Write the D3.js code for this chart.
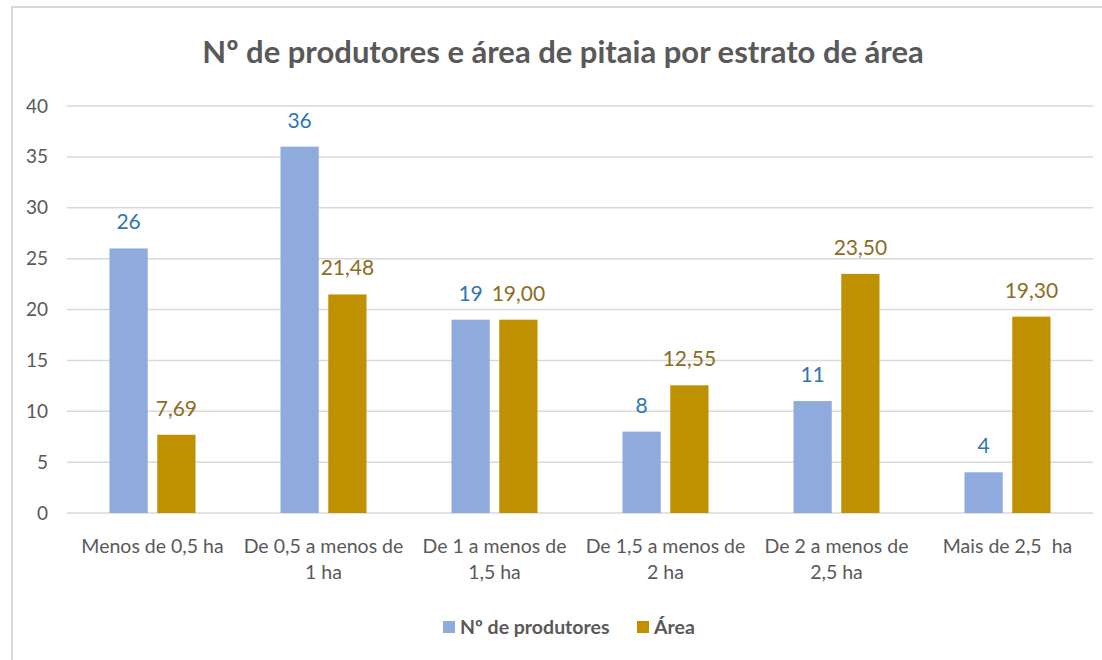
<!DOCTYPE html>
<html>
<head>
<meta charset="utf-8">
<script src="https://cdn.jsdelivr.net/npm/d3@7"></script>
<style>
  body { margin: 0; background: #fff; }
  text { font-family: Lato, "Open Sans", sans-serif; }
</style>
</head>
<body>
<div id="chart"></div>
<script>
// Chart data
var categories = [
  ["Menos de 0,5 ha"],
  ["De 0,5 a menos de", "1 ha"],
  ["De 1 a menos de", "1,5 ha"],
  ["De 1,5 a menos de", "2 ha"],
  ["De 2 a menos de", "2,5 ha"],
  ["Mais de 2,5  ha"]
];
var seriesNames = ["Nº de produtores", "Área"];
var produtores = [26, 36, 19, 8, 11, 4];
var area = [7.69, 21.48, 19.00, 12.55, 23.50, 19.30];
var yTicks = [0, 5, 10, 15, 20, 25, 30, 35, 40];

var svgWidth = 1102;
var svgHeight = 660;
var margin = { top: 106, right: 9, bottom: 147, left: 67 };
var chartWidth = svgWidth - margin.left - margin.right;
var chartHeight = svgHeight - margin.top - margin.bottom;

var colors = ["#8faadc", "#bf9000"];
var labelColors = ["#2e75b6", "#8c6d1f"];

var svg = d3.select("#chart")
  .append("svg")
  .attr("width", svgWidth)
  .attr("height", svgHeight);

// Outer frame
svg.append("rect")
  .attr("x", 12)
  .attr("y", 7)
  .attr("width", svgWidth)
  .attr("height", svgHeight)
  .attr("fill", "none")
  .attr("stroke", "#d9d9d9")
  .attr("stroke-width", 2);

// Title
svg.append("text")
  .attr("x", 563)
  .attr("y", 63)
  .attr("text-anchor", "middle")
  .attr("font-size", 31)
  .attr("font-weight", "bold")
  .attr("fill", "#595959")
  .text("Nº de produtores e área de pitaia por estrato de área");

var chartGroup = svg.append("g")
  .attr("transform", `translate(${margin.left}, ${margin.top})`);

var idx = d3.range(categories.length);

var x0 = d3.scaleBand()
  .domain(idx)
  .range([0, chartWidth])
  .padding(0);

var x1 = d3.scaleBand()
  .domain([0, 1])
  .range([0, 86])
  .paddingInner(0.2)
  .paddingOuter(0);

var yLinearScale = d3.scaleLinear()
  .domain([0, 40])
  .range([chartHeight, 0]);

// Gridlines
chartGroup.append("g")
  .selectAll("line")
  .data(yTicks)
  .enter()
  .append("line")
  .attr("x1", 0)
  .attr("x2", chartWidth)
  .attr("y1", d => yLinearScale(d))
  .attr("y2", d => yLinearScale(d))
  .attr("stroke", "#d9d9d9")
  .attr("stroke-width", 1.5);

// Y axis
var leftAxis = d3.axisLeft(yLinearScale)
  .tickValues(yTicks)
  .tickSize(0)
  .tickPadding(19);

var yAxis = chartGroup.append("g").call(leftAxis);
yAxis.select(".domain").remove();
yAxis.selectAll("text")
  .attr("font-size", 19)
  .attr("fill", "#595959")
  .style("font-family", "Lato, 'Open Sans', sans-serif");

// Bars
var series = [produtores, area];
var groups = chartGroup.selectAll("g.cat")
  .data(idx)
  .enter()
  .append("g")
  .attr("class", "cat")
  .attr("transform", d => `translate(${x0(d) + x0.bandwidth() / 2 - 43}, 0)`);

groups.selectAll("rect")
  .data(d => series.map((s, i) => ({ s: i, v: s[d] })))
  .enter()
  .append("rect")
  .attr("x", d => x1(d.s))
  .attr("y", d => yLinearScale(d.v))
  .attr("width", x1.bandwidth())
  .attr("height", d => chartHeight - yLinearScale(d.v))
  .attr("fill", d => colors[d.s]);

groups.selectAll("text.val")
  .data(d => series.map((s, i) => ({ s: i, v: s[d] })))
  .enter()
  .append("text")
  .attr("class", "val")
  .attr("x", d => x1(d.s) + x1.bandwidth() / 2)
  .attr("y", d => yLinearScale(d.v) - 19)
  .attr("text-anchor", "middle")
  .attr("font-size", 21)
  .attr("fill", d => labelColors[d.s])
  .text(d => d.s === 0 ? d.v : d.v.toFixed(2).replace(".", ","));

// Category labels
var catLabels = chartGroup.append("g")
  .attr("transform", `translate(0, ${chartHeight})`);

catLabels.selectAll("text")
  .data(idx)
  .enter()
  .append("text")
  .attr("x", d => x0(d) + x0.bandwidth() / 2)
  .attr("y", 40)
  .attr("text-anchor", "middle")
  .attr("font-size", 19.5)
  .attr("fill", "#595959")
  .style("white-space", "pre")
  .each(function(d) {
    var t = d3.select(this);
    categories[d].forEach(function(line, i) {
      t.append("tspan")
        .attr("x", x0(d) + x0.bandwidth() / 2)
        .attr("dy", i === 0 ? 0 : 26)
        .text(line);
    });
  });

// Legend
var legendItems = [
  { name: seriesNames[0], color: colors[0], x: 443 },
  { name: seriesNames[1], color: colors[1], x: 637 }
];
var legend = svg.append("g");
legend.selectAll("rect")
  .data(legendItems)
  .enter()
  .append("rect")
  .attr("x", d => d.x)
  .attr("y", 621)
  .attr("width", 12)
  .attr("height", 12)
  .attr("fill", d => d.color);
legend.selectAll("text")
  .data(legendItems)
  .enter()
  .append("text")
  .attr("x", d => d.x + 17)
  .attr("y", 634)
  .attr("font-size", 19.5)
  .attr("font-weight", "bold")
  .attr("fill", "#595959")
  .text(d => d.name);
</script>
</body>
</html>
